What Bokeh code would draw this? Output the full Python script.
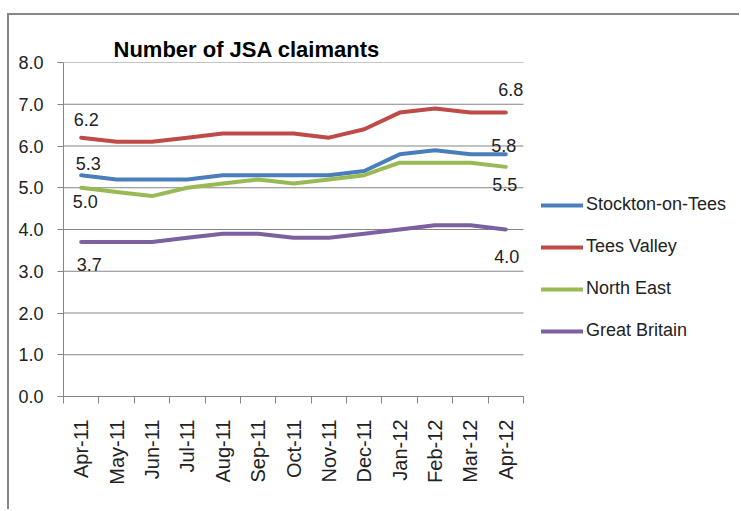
import math
from bokeh.plotting import figure
from bokeh.models import (Range1d, FixedTicker, NumeralTickFormatter, Legend, LegendItem,
                          ColumnDataSource)
from bokeh.core.properties import value
from bokeh.embed import file_html
from bokeh.resources import INLINE

# ---- data ----
months = ["Apr-11", "May-11", "Jun-11", "Jul-11", "Aug-11", "Sep-11", "Oct-11",
          "Nov-11", "Dec-11", "Jan-12", "Feb-12", "Mar-12", "Apr-12"]
stockton = [5.3, 5.2, 5.2, 5.2, 5.3, 5.3, 5.3, 5.3, 5.4, 5.8, 5.9, 5.8, 5.8]
tees_valley = [6.2, 6.1, 6.1, 6.2, 6.3, 6.3, 6.3, 6.2, 6.4, 6.8, 6.9, 6.8, 6.8]
north_east = [5.0, 4.9, 4.8, 5.0, 5.1, 5.2, 5.1, 5.2, 5.3, 5.6, 5.6, 5.6, 5.5]
great_britain = [3.7, 3.7, 3.7, 3.8, 3.9, 3.9, 3.8, 3.8, 3.9, 4.0, 4.1, 4.1, 4.0]
series_names = ["Stockton-on-Tees", "Tees Valley", "North East", "Great Britain"]
y_ticks = [0, 1, 2, 3, 4, 5, 6, 7, 8]
title_text = "Number of JSA claimants"

# ---- styles / layout ----
colors = ["#4A7EBB", "#BE4B48", "#98B954", "#7D60A0"]
# data-label offsets (first point, last point) in pixels per series
label_offsets = [((7, -12), (-2, -9)),
                 ((5, -18), (5, -23)),
                 ((4, 14), (-1, 18)),
                 ((8, 22), (1, 27))]
FONT = "Liberation Sans"
TXT = "#222222"
GRID = "#868686"

FIG_W, FIG_H = 732, 496
B_LEFT, B_TOP, B_BOTTOM = 54, 47, 115
PLOT_W = 460          # width of the category area (Excel plot area)
FRAME_W = FIG_W - B_LEFT

series = [stockton, tees_valley, north_east, great_britain]
xs = list(range(len(months)))
n = len(months)
x_start = -0.5
x_cat_end = n - 0.5
x_end = x_start + n * FRAME_W / PLOT_W

p = figure(width=FIG_W, height=FIG_H, output_backend="svg", toolbar_location=None,
           x_range=Range1d(x_start, x_end), y_range=Range1d(y_ticks[0], y_ticks[-1]),
           min_border_left=B_LEFT, min_border_right=0, min_border_top=B_TOP,
           min_border_bottom=B_BOTTOM)
p.margin = (13, 0, 0, 7)
p.styles = {"border-left": "2px solid #888888", "border-top": "2px solid #888888"}
p.background_fill_color = "white"
p.border_fill_color = "white"
p.outline_line_color = None

p.title.text = title_text
p.title.align = "left"
p.title.offset = 50
p.title.standoff = 2
p.title.text_font = FONT
p.title.text_font_size = "22px"
p.title.text_font_style = "bold"
p.title.text_color = "#000000"

p.xgrid.visible = False
p.ygrid.visible = False
# horizontal gridlines limited to the category area
p.segment(x0=[x_start] * len(y_ticks), x1=[x_cat_end] * len(y_ticks),
          y0=y_ticks, y1=y_ticks, line_color=GRID, line_width=1)

xa = p.xaxis[0]
xa.bounds = (x_start, x_cat_end)
xa.ticker = FixedTicker(ticks=xs, minor_ticks=[i - 0.5 for i in range(n + 1)])
xa.major_label_overrides = {i: m for i, m in enumerate(months)}
xa.major_tick_line_color = None
xa.major_tick_out = 7
xa.major_tick_in = 0
xa.minor_tick_line_color = GRID
xa.minor_tick_out = 7
xa.minor_tick_in = 0
xa.axis_line_color = GRID
xa.major_label_orientation = math.pi / 2
xa.major_label_standoff = 16
xa.major_label_text_font = FONT
xa.major_label_text_font_size = "20px"
xa.major_label_text_color = TXT

ya = p.yaxis[0]
ya.ticker = FixedTicker(ticks=y_ticks)
ya.formatter = NumeralTickFormatter(format="0.0")
ya.major_tick_line_color = GRID
ya.major_tick_out = 6
ya.major_tick_in = 0
ya.minor_tick_line_color = None
ya.axis_line_color = GRID
ya.major_label_standoff = 14
ya.major_label_text_font = FONT
ya.major_label_text_font_size = "18px"
ya.major_label_text_color = TXT

items = []
lx, ly, lt, ldx, ldy = [], [], [], [], []
for name, vals, col, offs in zip(series_names, series, colors, label_offsets):
    r = p.line(xs, vals, line_color=col, line_width=4, line_join="round", line_cap="round")
    items.append(LegendItem(label=name, renderers=[r]))
    for idx, (dx, dy) in zip([0, len(vals) - 1], offs):
        lx.append(xs[idx]); ly.append(vals[idx]); lt.append(f"{vals[idx]:.1f}")
        ldx.append(dx); ldy.append(dy)

src = ColumnDataSource(dict(x=lx, y=ly, t=lt, dx=ldx, dy=ldy))
p.text(x="x", y="y", text="t", x_offset="dx", y_offset="dy", source=src,
       text_font=value(FONT), text_font_size="18px", text_color=TXT,
       text_align="center", text_baseline="middle")

legend = Legend(items=items, location=(PLOT_W + 18, 55), orientation="vertical",
                glyph_width=42, glyph_height=20, label_height=20, spacing=21,
                padding=0, margin=0, label_standoff=3,
                border_line_color=None, background_fill_alpha=0,
                label_text_font=FONT, label_text_font_size="18px", label_text_color=TXT)
p.add_layout(legend)

open("out.html", "w").write(file_html(p, INLINE))
